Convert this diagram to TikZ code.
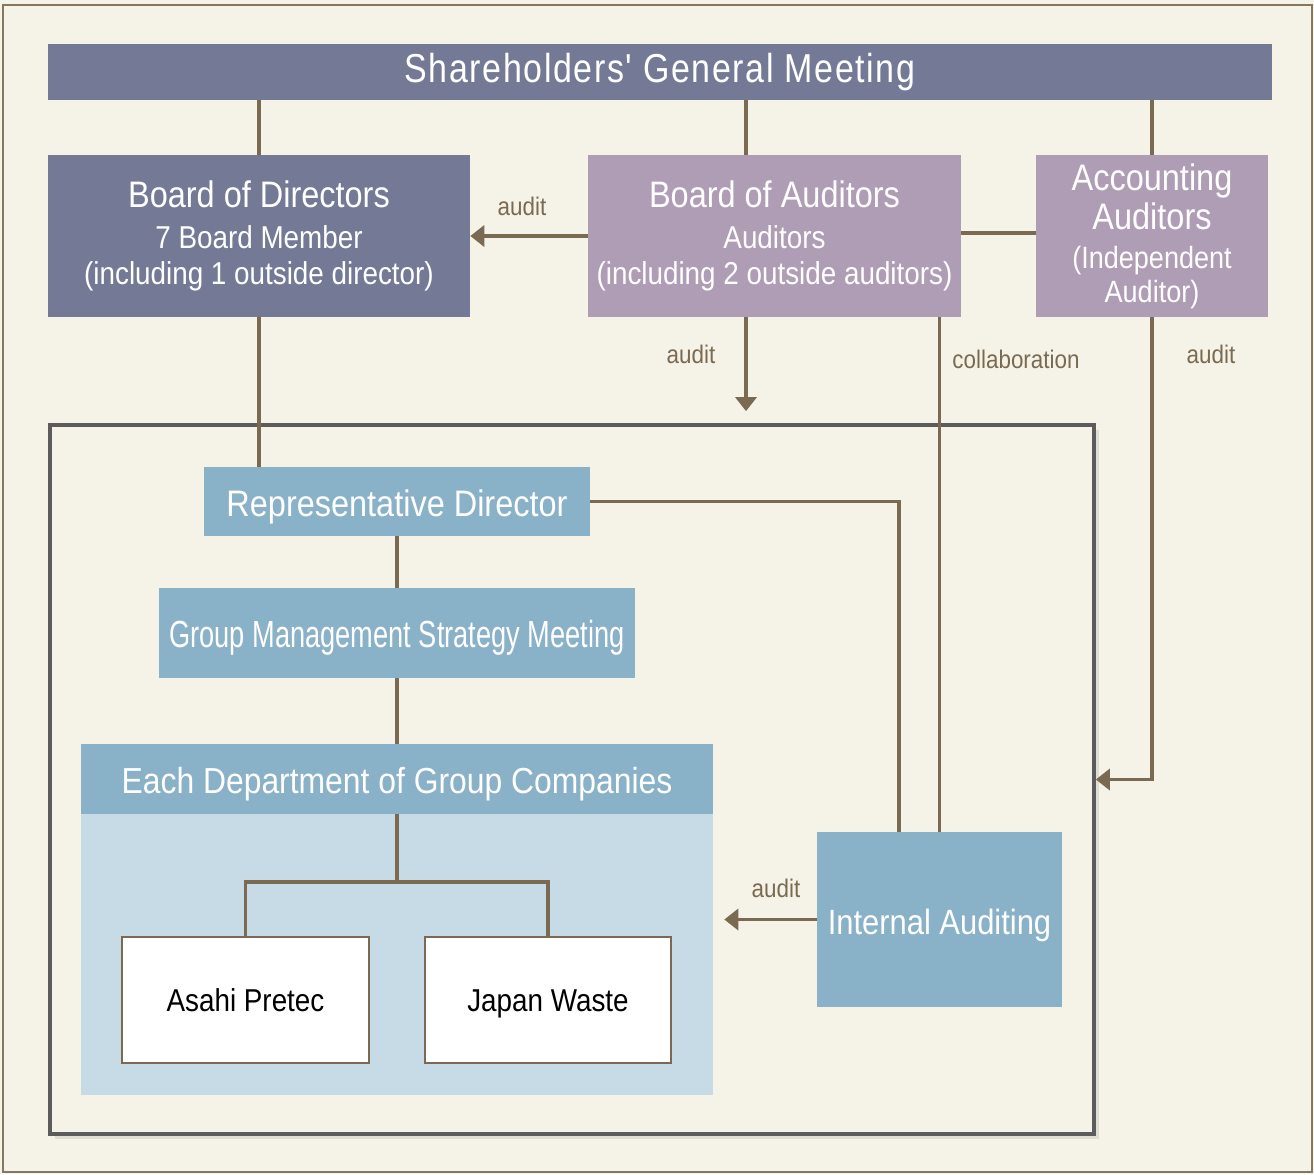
\documentclass[tikz,border=0pt]{standalone}
\usepackage{fontspec}
\setmainfont{Liberation Sans}[FakeStretch=0.88]
\newfontfamily\widefont{Liberation Sans}[FakeStretch=0.84,LetterSpace=4]
\newfontfamily\narrowfont{Liberation Sans}[FakeStretch=0.72]
\usetikzlibrary{positioning,arrows.meta,shadows,calc}
\definecolor{paper}{HTML}{F5F3E7}
\definecolor{rim}{HTML}{857660}
\definecolor{slate}{HTML}{747A96}
\definecolor{mauve}{HTML}{AF9DB5}
\definecolor{steel}{HTML}{89B1C8}
\definecolor{pale}{HTML}{C6DBE6}
\definecolor{wire}{HTML}{7B6A52}
\definecolor{framegray}{HTML}{5C5C5C}
\tikzset{
>={Triangle[width=12pt,length=8pt]},
  topbox/.style={
    rectangle,
    fill=slate,
    text=white,
    align=center,
    inner sep=0pt},
  auditbox/.style={
    rectangle,
    fill=mauve,
    text=white,
    align=center,
    inner sep=0pt},
  bluebox/.style={
    rectangle,
    fill=steel,
    text=white,
    align=center,
    inner sep=0pt,
    text height=17pt, text depth=0pt,
    font=\fontsize{21}{25}\selectfont},
  company/.style={
    rectangle,
    fill=white,
    draw=wire, line width=1pt,
    inner sep=0pt,
    text height=15pt, text depth=1.5pt,
    font=\fontsize{18}{22}\selectfont},
  line/.style={draw=wire, line width=2pt},
  tag/.style={text=wire, font=\fontsize{14.5}{16}\selectfont},
}

\begin{document}
\begin{tikzpicture}[x=0.02cm,y=-0.02cm]
\useasboundingbox (0,0) rectangle (1314,1174);
\fill[paper] (0,0) rectangle (1314,1174);
\draw[rim, line width=1.5pt] (3,5) rectangle (1312,1172);

% outer frame
\node[draw=framegray, line width=2.2pt, fill=paper, minimum width=20.88cm, minimum height=14.18cm,
  drop shadow={opacity=0.18, shadow xshift=3pt, shadow yshift=-3pt}] (Frame) at (572,779.5) {};

% boxes
\node[topbox, minimum width=24.48cm, minimum height=1.12cm,
  font=\widefont\fontsize{23}{26}\selectfont] (SGM) at (660,72) {Shareholders' General Meeting};
\node[topbox, minimum width=8.44cm, minimum height=3.24cm, font=\fontsize{18}{20.5}\selectfont] (BoD) at (259,236)
  {{\fontsize{21}{24}\selectfont Board of Directors}\\[3pt]7 Board Member\\(including 1 outside director)};
\node[auditbox, minimum width=7.46cm, minimum height=3.24cm, font=\fontsize{18}{20.5}\selectfont] (BoA) at (774.5,236)
  {{\fontsize{21}{24}\selectfont Board of Auditors}\\[3pt]Auditors\\(including 2 outside auditors)};
\node[auditbox, minimum width=4.64cm, minimum height=3.24cm, font=\fontsize{17.5}{19}\selectfont] (Acc) at (1152,236)
  {{\fontsize{21}{21}\selectfont Accounting}\\[1.5pt]{\fontsize{21}{21}\selectfont Auditors}\\[3.5pt](Independent\\Auditor)};

\node[bluebox, minimum width=7.72cm, minimum height=1.38cm] (RepDir) at (397,501.5) {Representative Director};
\node[bluebox, minimum width=9.52cm, minimum height=1.8cm, font=\narrowfont\fontsize{21.5}{25}\selectfont] (GMSM) at (397,633)
  {Group Management Strategy Meeting};
\fill[pale] (81,814) rectangle (713,1095);
\node[bluebox, minimum width=12.64cm, minimum height=1.4cm, font=\fontsize{20.6}{24}\selectfont] (Dept) at (397,779)
  {Each Department of Group Companies};
\node[inner sep=0pt, minimum width=12.64cm, minimum height=5.62cm] (Panel) at (397,954.5) {};
\node[company, minimum width=4.94cm, minimum height=2.52cm] (Asahi) at (245.5,1000) {Asahi Pretec};
\node[company, minimum width=4.92cm, minimum height=2.52cm] (Japan) at (548,1000) {Japan Waste};
\node[bluebox, minimum width=4.9cm, minimum height=3.5cm, font=\fontsize{20}{24}\selectfont] (IntAud) at (939.5,919.5)
  {Internal Auditing};

% connectors
\coordinate (auditX) at (746,0);
\coordinate (fork) at (397,882);
\path[line] (BoD.north |- SGM.south) -- (BoD.north);
\path[line] (SGM.south -| auditX) -- (BoA.north -| auditX);
\path[line] (Acc.north |- SGM.south) -- (Acc.north);
\path[line, ->] (BoA.west) -- (BoD.east);
\path[line] ([yshift=0.06cm]BoA.east) -- ([yshift=0.06cm]Acc.west);
\path[line, ->, shorten >=0.24cm] (BoA.south -| auditX) -- (Frame.north -| auditX);
\path[line] (IntAud.north |- BoA.south) -- (IntAud.north);
\path[line, ->] (Acc.south) |- (Frame.east);
\path[line] (BoD.south) -- (BoD.south |- RepDir.north);
\path[line] (RepDir.east) -| ([xshift=-0.81cm]IntAud.north);
\path[line] (RepDir.south) -- (GMSM.north);
\path[line] (GMSM.south) -- (Dept.north);
\path[line] (Dept.south) -- (fork);
\path[line] (Asahi.north) |- (fork) -| (Japan.north);
\path[line, ->, shorten >=0.22cm] (IntAud.west) -- (IntAud.west -| Panel.east);

% labels
\node[tag] (tagA) at (522,206) {audit};
\node[tag] (tagB) at (691,354) {audit};
\node[tag] (tagC) at (1016,359) {collaboration};
\node[tag] (tagD) at (1211,354) {audit};
\node[tag] (tagE) at (776,888) {audit};
\end{tikzpicture}
\end{document}
